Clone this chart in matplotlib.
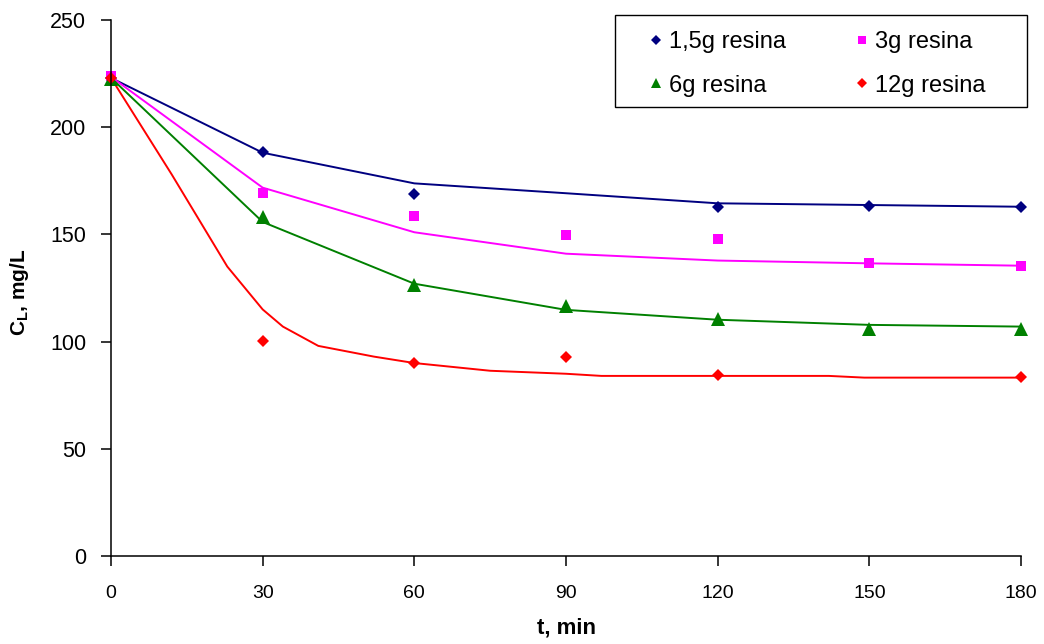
import matplotlib
matplotlib.use("Agg")
import matplotlib.pyplot as plt
from matplotlib.patches import Rectangle

# experimental points
t_15 = [0, 30, 60, 120, 150, 180]
c_15 = [223, 188.3, 168.8, 162.9, 163.2, 162.9]
t_3 = [0, 30, 60, 90, 120, 150, 180]
c_3 = [224, 169.2, 158.7, 149.6, 148, 136.5, 135.2]
t_6 = [0, 30, 60, 90, 120, 150, 180]
c_6 = [222.5, 158.3, 126.4, 116.4, 110.6, 105.8, 105.8]
t_12 = [0, 30, 60, 90, 120, 180]
c_12 = [223, 100.3, 89.9, 93, 84.6, 83.3]

# model curves
t_mod = [0, 30, 60, 90, 120, 150, 180]
m_15 = [223, 188.1, 173.8, 169.2, 164.5, 163.7, 162.9]
m_3 = [223.5, 171.8, 151, 141, 137.8, 136.5, 135.4]
m_6 = [223, 155.8, 127, 114.8, 110.2, 107.8, 107]
t_mod12 = [0, 12, 23, 30, 34, 41, 52, 60, 75, 90, 97, 120, 142, 149, 180]
m_12 = [223, 178, 135, 115, 107, 98, 93, 90, 86.4, 85, 84, 84, 84, 83.2, 83.2]

labels = ["1,5g resina", "3g resina", "6g resina", "12g resina"]
colors = ["#000080", "#FF00FF", "#008000", "#FF0000"]

plt.rcParams['font.family'] = ['Liberation Sans', 'DejaVu Sans']
plt.rcParams['mathtext.fontset'] = 'custom'
plt.rcParams['mathtext.rm'] = 'Liberation Sans'
plt.rcParams['mathtext.bf'] = 'Liberation Sans:bold'

fig = plt.figure(figsize=(10.44, 6.44), dpi=100)
ax = fig.add_axes([111 / 1044, 88 / 644, 910 / 1044, 536 / 644])

ax.plot(t_mod, m_15, color=colors[0], lw=1.4)
ax.plot(t_mod, m_3, color=colors[1], lw=1.4)
ax.plot(t_mod, m_6, color=colors[2], lw=1.4)
ax.plot(t_mod12, m_12, color=colors[3], lw=1.4)

h1, = ax.plot(t_15, c_15, 'D', color=colors[0], ms=6.6, mew=0, label=labels[0], clip_on=False)
h2, = ax.plot(t_3, c_3, 's', color=colors[1], ms=7.6, mew=0, label=labels[1], clip_on=False)
h3, = ax.plot(t_6, c_6, '^', color=colors[2], ms=9.5, mew=0, label=labels[2], clip_on=False)
h4, = ax.plot(t_12, c_12, 'D', color=colors[3], ms=6.6, mew=0, label=labels[3], clip_on=False)

ax.set_xlim(0, 180)
ax.set_ylim(0, 250)
ax.set_xticks(range(0, 181, 30))
ax.set_yticks(range(0, 251, 50))
ax.spines['top'].set_visible(False)
ax.spines['right'].set_visible(False)
for s in ['left', 'bottom']:
    ax.spines[s].set_linewidth(1.1)
ax.tick_params(axis='both', direction='out', length=7, width=1.1)
ax.tick_params(axis='y', labelsize=15.5, pad=11)
ax.tick_params(axis='x', labelsize=14, pad=14)

ax.set_xlabel("t, min", fontsize=16, fontweight='bold')
ax.xaxis.set_label_coords(0.501, -0.114)
ax.set_ylabel(r"$\mathbf{C_L}$, mg/L", fontsize=15, fontweight='bold')
ax.yaxis.label.set_va('center')
ax.yaxis.set_label_coords(-0.1, 0.493)

# row order: 1,5g | 3g  /  6g | 12g
ax.legend([h1, h3, h2, h4], [labels[0], labels[2], labels[1], labels[3]],
          ncol=2, loc='upper left', bbox_to_anchor=(0.589, 0.979),
          frameon=False, fontsize=17, borderpad=0, borderaxespad=0,
          handlelength=0.8, handletextpad=0.15, columnspacing=2.79,
          labelspacing=0.9, numpoints=1, markerscale=0.75)
ax.add_patch(Rectangle((0.5538, 0.8377), 0.4528, 0.1716, transform=ax.transAxes,
                       fill=False, edgecolor='black', lw=1.0, clip_on=False))

plt.savefig("out.png", dpi=100)
